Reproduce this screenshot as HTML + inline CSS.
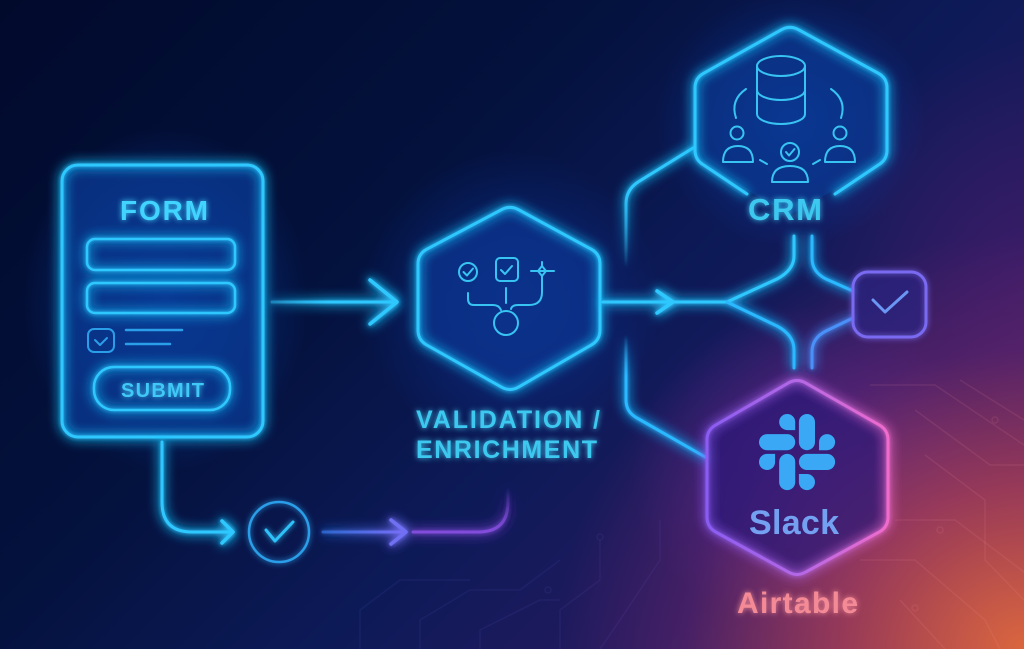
<!DOCTYPE html>
<html>
<head>
<meta charset="utf-8">
<style>
  html,body{margin:0;padding:0;width:1024px;height:649px;overflow:hidden;background:#020a2e;}
  #bg{position:absolute;left:0;top:0;width:1024px;height:649px;
    background:
      radial-gradient(ellipse 190px 230px at 165px 300px, rgba(12,90,215,0.55), rgba(12,90,215,0) 75%),
      radial-gradient(ellipse 200px 200px at 510px 300px, rgba(12,70,195,0.45), rgba(12,70,195,0) 75%),
      radial-gradient(ellipse 180px 170px at 790px 120px, rgba(12,80,205,0.5), rgba(12,80,205,0) 75%),
      radial-gradient(ellipse 520px 460px at 1024px 649px, rgba(225,105,60,0.95) 0%, rgba(180,65,85,0.75) 35%, rgba(120,40,110,0.4) 65%, rgba(90,30,120,0) 90%),
      radial-gradient(ellipse 240px 220px at 810px 470px, rgba(100,40,170,0.55), rgba(100,40,170,0) 75%),
      radial-gradient(ellipse 260px 300px at 1024px 280px, rgba(80,30,110,0.55), rgba(80,30,110,0) 80%),
      linear-gradient(135deg, #020a2c 0%, #03113c 35%, #0d1a58 58%, #241a60 78%, #5a2a62 100%);
  }
  svg{position:absolute;left:0;top:0;}
  text{font-family:"Liberation Sans", Arial, sans-serif;font-weight:bold;}
</style>
</head>
<body>
<div id="bg"></div>
<svg width="1024" height="649" viewBox="0 0 1024 649" xmlns="http://www.w3.org/2000/svg">
  <defs>
    <filter id="glow" filterUnits="userSpaceOnUse" x="0" y="0" width="1024" height="649">
      <feGaussianBlur in="SourceGraphic" stdDeviation="6" result="b1"/>
      <feGaussianBlur in="SourceGraphic" stdDeviation="2" result="b2"/>
      <feMerge><feMergeNode in="b1"/><feMergeNode in="b1"/><feMergeNode in="b2"/><feMergeNode in="SourceGraphic"/></feMerge>
    </filter>
    <filter id="glowS" filterUnits="userSpaceOnUse" x="0" y="0" width="1024" height="649">
      <feGaussianBlur in="SourceGraphic" stdDeviation="3" result="b1"/>
      <feMerge><feMergeNode in="b1"/><feMergeNode in="SourceGraphic"/></feMerge>
    </filter>
    <linearGradient id="slackStroke" gradientUnits="userSpaceOnUse" x1="707" y1="0" x2="888" y2="0">
      <stop offset="0" stop-color="#8a5cf2"/>
      <stop offset="0.5" stop-color="#b468e6"/>
      <stop offset="1" stop-color="#f06ccc"/>
    </linearGradient>
    <linearGradient id="midArrow" gradientUnits="userSpaceOnUse" x1="323" y1="0" x2="408" y2="0">
      <stop offset="0" stop-color="#3a7cf0" stop-opacity="0.6"/>
      <stop offset="1" stop-color="#7c6cf6"/>
    </linearGradient>
    <linearGradient id="rightHook" gradientUnits="userSpaceOnUse" x1="0" y1="540" x2="0" y2="488">
      <stop offset="0" stop-color="#8a50e4"/>
      <stop offset="1" stop-color="#8a50e4" stop-opacity="0"/>
    </linearGradient>
    <linearGradient id="upFade" gradientUnits="userSpaceOnUse" x1="0" y1="190" x2="0" y2="268">
      <stop offset="0" stop-color="#2ec8ff"/>
      <stop offset="1" stop-color="#2ec8ff" stop-opacity="0"/>
    </linearGradient>
    <linearGradient id="lowFade" gradientUnits="userSpaceOnUse" x1="0" y1="335" x2="0" y2="420">
      <stop offset="0" stop-color="#2ab8ff" stop-opacity="0"/>
      <stop offset="0.5" stop-color="#2ab8ff"/>
      <stop offset="1" stop-color="#2ab8ff"/>
    </linearGradient>
    <linearGradient id="leftFade" gradientUnits="userSpaceOnUse" x1="272" y1="0" x2="330" y2="0">
      <stop offset="0" stop-color="#2ec8ff" stop-opacity="0.4"/>
      <stop offset="1" stop-color="#2ec8ff"/>
    </linearGradient>
  </defs>

  <!-- faint circuit traces -->
  <g fill="none" stroke="#ff9aa8" stroke-opacity="0.11" stroke-width="1.5">
    <path d="M870,385 L935,385 L1024,445"/>
    <path d="M915,410 L990,465 L1024,465"/>
    <path d="M925,455 L985,500 L985,560 L1024,600"/>
    <path d="M895,520 L955,520 L1024,572"/>
    <path d="M860,560 L915,560 L985,620 L1000,649"/>
    <path d="M900,600 L945,649"/>
    <path d="M960,380 L1024,420"/>
    <circle cx="995" cy="420" r="3"/>
    <circle cx="940" cy="530" r="3"/>
    <circle cx="915" cy="608" r="3"/>
  </g>
  <g fill="none" stroke="#8a7cff" stroke-opacity="0.08" stroke-width="1.5">
    <path d="M360,649 L360,610 L400,580 L470,580"/>
    <path d="M420,649 L420,620 L470,590 L520,590 L560,560"/>
    <path d="M480,649 L480,630 L540,600 L560,600"/>
    <path d="M560,649 L560,610 L600,580 L600,540"/>
    <path d="M600,649 L620,620 L660,560 L660,520"/>
    <circle cx="548" cy="590" r="3"/>
    <circle cx="600" cy="537" r="3"/>
  </g>

  <!-- FORM card -->
  <rect x="62" y="165" width="201" height="272" rx="16" fill="#0a3a94" fill-opacity="0.75"/>
  <g fill="none" stroke="#2ec8ff" stroke-width="3" filter="url(#glow)">
    <rect x="62" y="165" width="201" height="272" rx="16"/>
    <rect x="87" y="239" width="148" height="31" rx="8" stroke-width="2.5"/>
    <rect x="87" y="283" width="148" height="30" rx="8" stroke-width="2.5"/>
    <rect x="94" y="367" width="136" height="43" rx="20" stroke-width="2.5"/>
  </g>
  <g fill="none" stroke="#2a9ee8" stroke-width="2" stroke-linecap="round" stroke-linejoin="round">
    <rect x="88" y="329" width="26" height="23" rx="6"/>
    <path d="M95,340 L100,345 L107,338"/>
    <line x1="126" y1="330" x2="182" y2="330" stroke-width="2.5"/>
    <line x1="126" y1="344" x2="170" y2="344" stroke-width="2.5"/>
  </g>
  <g filter="url(#glowS)">
    <text x="120" y="220" font-size="28" fill="#3fd4ff" textLength="88" lengthAdjust="spacing">FORM</text>
    <text x="121" y="397" font-size="20" fill="#3fc8f6" textLength="83" lengthAdjust="spacing">SUBMIT</text>
  </g>

  <!-- Form -> Validation arrow -->
  <g fill="none" stroke-linecap="round" stroke-linejoin="round" filter="url(#glow)">
    <line x1="272" y1="302" x2="396" y2="302" stroke="url(#leftFade)" stroke-width="3"/>
    <path d="M370,280 L397,302 L370,324" stroke="#2ec8ff" stroke-width="3.5"/>
  </g>

  <!-- Validation hexagon -->
  <path d="M501.2,209.8 Q510,205 518.8,209.8 L591.2,249.2 Q600,254 600,264 L600,330 Q600,340 591.3,345 L518.7,387 Q510,392 501.3,387 L426.7,345 Q418,340 418,330 L418,264 Q418,254 426.8,249.2 Z" fill="#0b3490" fill-opacity="0.7"/>
  <path d="M501.2,209.8 Q510,205 518.8,209.8 L591.2,249.2 Q600,254 600,264 L600,330 Q600,340 591.3,345 L518.7,387 Q510,392 501.3,387 L426.7,345 Q418,340 418,330 L418,264 Q418,254 426.8,249.2 Z" fill="none" stroke="#2ec8ff" stroke-width="3" filter="url(#glow)"/>
  <g fill="none" stroke="#38c4f2" stroke-width="2" stroke-linecap="round" stroke-linejoin="round">
    <circle cx="468" cy="272" r="9"/>
    <path d="M463.5,272 L467,275.5 L473,268.5"/>
    <rect x="496" y="258" width="22" height="23" rx="4"/>
    <path d="M501,270 L505,274 L512,266"/>
    <line x1="531" y1="271" x2="554" y2="271"/>
    <line x1="542" y1="262" x2="542" y2="266"/>
    <path d="M542,266 L546,271 L542,276 L538,271 Z"/>
    <path d="M542,276 L542,292 Q542,305 529,305 L518,305 Q512,305 511,309"/>
    <path d="M468,293 L468,299 Q468,305 474,305 L493,305 Q499,305 501,310"/>
    <line x1="506" y1="288" x2="506" y2="303"/>
    <circle cx="506" cy="323" r="12"/>
  </g>
  <g filter="url(#glowS)">
    <text x="416" y="428" font-size="25" fill="#3cc8f0" textLength="184" lengthAdjust="spacing">VALIDATION /</text>
    <text x="416" y="458" font-size="25" fill="#3cc8f0" textLength="181" lengthAdjust="spacing">ENRICHMENT</text>
  </g>

  <!-- Validation -> split arrow and branches -->
  <g fill="none" stroke-linecap="round" stroke-linejoin="round" filter="url(#glow)">
    <line x1="603" y1="302" x2="727" y2="302" stroke="#2ec8ff" stroke-width="3"/>
    <path d="M657,291 L673,302 L657,313" stroke="#2ec8ff" stroke-width="3.5"/>
    <path d="M727,302 L777,279 Q794,270 794,256 L794,236" stroke="#2ec8ff" stroke-width="3"/>
    <path d="M727,302 L777,326 Q794,335 794,350 L794,368" stroke="#2ab8ff" stroke-width="3"/>
    <path d="M812,236 L812,258 Q812,272 826,279 L853,291" stroke="#2ab8ff" stroke-width="3"/>
    <path d="M853,318 L826,331 Q812,338 812,352 L812,368" stroke="#4a90f8" stroke-width="3"/>
    <path d="M693,148 L638,182 Q626,190 626,204 L626,268" stroke="url(#upFade)" stroke-width="3"/>
    <path d="M626,335 L626,400 Q626,412 637,418 L707,458" stroke="url(#lowFade)" stroke-width="3"/>
  </g>

  <!-- CRM hexagon -->
  <path d="M790,25 L887,78 L887,160 L790,215 L695,160 L695,78 Z" fill="#0a3a95" fill-opacity="0.6"/>
  <path d="M747,194 L703.7,165 Q695,160 695,150 L695,88 Q695,78 703.8,73.2 L781.2,29.8 Q790,25 798.8,29.8 L878.2,73.2 Q887,78 887,88 L887,150 Q887,160 878.3,165 L835,194" fill="none" stroke="#2ec8ff" stroke-width="3" stroke-linecap="round" filter="url(#glow)"/>
  <g fill="none" stroke="#38c4f2" stroke-width="2" stroke-linecap="round" stroke-linejoin="round">
    <ellipse cx="781" cy="66" rx="24" ry="10"/>
    <path d="M757,66 L757,114 A24,10 0 0 0 805,114 L805,66"/>
    <path d="M757,90 A24,10 0 0 0 805,90"/>
    <path d="M746,89 Q730,100 736,118"/>
    <path d="M816,89 Q832,100 826,118" transform="translate(15,0)"/>
    <circle cx="737" cy="133" r="6.5"/>
    <path d="M723,162 L753,162 Q753,146 738,146 Q723,146 723,162 Z"/>
    <circle cx="840" cy="133" r="6.5"/>
    <path d="M825,162 L855,162 Q855,146 840,146 Q825,146 825,162 Z"/>
    <circle cx="790" cy="152" r="9"/>
    <path d="M786,152 L789,155.5 L794.5,149"/>
    <path d="M772,182 L808,182 Q808,166 790,166 Q772,166 772,182 Z"/>
    <line x1="760" y1="160" x2="767" y2="164"/>
    <line x1="813" y1="164" x2="820" y2="160"/>
  </g>
  <text x="748" y="220" font-size="31" fill="#3cc8f0" textLength="74" lengthAdjust="spacing" filter="url(#glowS)">CRM</text>

  <!-- check box on the right -->
  <rect x="853" y="272" width="73" height="65" rx="15" fill="#2a2080" fill-opacity="0.45" stroke="#7a6af2" stroke-width="3" filter="url(#glowS)"/>
  <path d="M873,300 L885,312 L907,292" fill="none" stroke="#6a96f4" stroke-width="3" stroke-linecap="round" stroke-linejoin="round"/>

  <!-- Slack hexagon -->
  <path d="M788.3,383 Q797,378 805.7,383 L879.3,425 Q888,430 888,440 L888,517 Q888,527 879.3,532 L805.7,572 Q797,577 788.3,572 L715.7,532 Q707,527 707,517 L707,440 Q707,430 715.7,425 Z" fill="#2a1878" fill-opacity="0.7"/>
  <path d="M788.3,383 Q797,378 805.7,383 L879.3,425 Q888,430 888,440 L888,517 Q888,527 879.3,532 L805.7,572 Q797,577 788.3,572 L715.7,532 Q707,527 707,517 L707,440 Q707,430 715.7,425 Z" fill="none" stroke="url(#slackStroke)" stroke-width="3" filter="url(#glow)"/>
  <g transform="translate(759,414) scale(0.61)" fill="#3aa8f5">
    <path d="M26.4 78.6c0 7.3-5.9 13.2-13.2 13.2S0 85.9 0 78.6s5.9-13.2 13.2-13.2h13.2v13.2z"/>
    <path d="M33 78.6c0-7.3 5.9-13.2 13.2-13.2s13.2 5.9 13.2 13.2v33c0 7.3-5.9 13.2-13.2 13.2S33 118.9 33 111.6v-33z"/>
    <path d="M46.2 26.4c-7.3 0-13.2-5.9-13.2-13.2S38.9 0 46.2 0s13.2 5.9 13.2 13.2v13.2H46.2z"/>
    <path d="M46.2 33c7.3 0 13.2 5.9 13.2 13.2s-5.9 13.2-13.2 13.2H13.2C5.9 59.4 0 53.5 0 46.2S5.9 33 13.2 33h33z"/>
    <path d="M98.4 46.2c0-7.3 5.9-13.2 13.2-13.2s13.2 5.9 13.2 13.2-5.9 13.2-13.2 13.2H98.4V46.2z"/>
    <path d="M91.8 46.2c0 7.3-5.9 13.2-13.2 13.2s-13.2-5.9-13.2-13.2V13.2C65.4 5.9 71.3 0 78.6 0s13.2 5.9 13.2 13.2v33z"/>
    <path d="M78.6 98.4c7.3 0 13.2 5.9 13.2 13.2s-5.9 13.2-13.2 13.2-13.2-5.9-13.2-13.2V98.4h13.2z"/>
    <path d="M78.6 91.8c-7.3 0-13.2-5.9-13.2-13.2s5.9-13.2 13.2-13.2h33c7.3 0 13.2 5.9 13.2 13.2s-5.9 13.2-13.2 13.2h-33z"/>
  </g>
  <text x="749" y="534" font-size="34" fill="#74a0f2" textLength="90" lengthAdjust="spacing">Slack</text>
  <text x="737" y="613" font-size="30" fill="#f48a96" textLength="121" lengthAdjust="spacing" filter="url(#glowS)">Airtable</text>

  <!-- bottom flow -->
  <g fill="none" stroke-linecap="round" stroke-linejoin="round" filter="url(#glow)">
    <path d="M162,442 L162,502 Q162,532 192,532 L230,532" stroke="#2ec8ff" stroke-width="3"/>
    <path d="M222,521 L233,532 L222,543" stroke="#2ec8ff" stroke-width="3.5"/>
    <line x1="323" y1="532" x2="404" y2="532" stroke="url(#midArrow)" stroke-width="3"/>
    <path d="M391,520 L406,532 L391,544" stroke="#7070f4" stroke-width="3.5"/>
    <path d="M413,532 L478,532 Q508,532 508,502 L508,488" stroke="url(#rightHook)" stroke-width="3"/>
  </g>
  <g fill="none" stroke="#2a9ee8" stroke-width="2.5" stroke-linecap="round" stroke-linejoin="round" filter="url(#glowS)">
    <circle cx="279" cy="532" r="30"/>
    <path d="M266,530 L275,541 L293,522" stroke="#2ec0f8" stroke-width="3"/>
  </g>
</svg>
</body>
</html>
